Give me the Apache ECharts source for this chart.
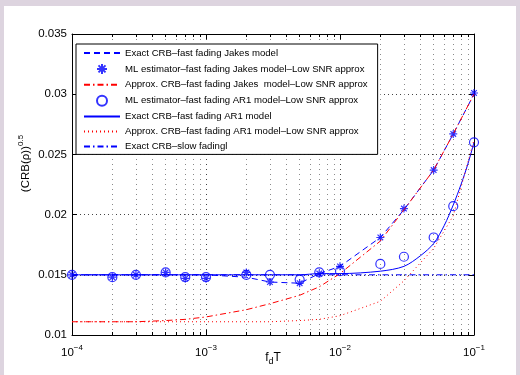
<!DOCTYPE html>
<html>
<head>
<meta charset="utf-8">
<script src="https://cdn.jsdelivr.net/npm/echarts@6/dist/echarts.min.js"></script>
<style>
html, body { margin: 0; padding: 0; }
#chart { width: 520px; height: 375px; }
</style>
</head>
<body>
<div id="chart"></div>
<script>
// f_d T 采样点
const fdT = [1e-4, 2e-4, 3e-4, 5e-4, 7e-4, 1e-3, 2e-3, 3e-3, 5e-3, 7e-3, 1e-2, 2e-2, 3e-2, 5e-2, 7e-2, 1e-1]
const exactJakes = [0.0150, 0.0150, 0.0150, 0.0150, 0.0150, 0.0150, 0.0148, 0.0144, 0.0143, 0.0151, 0.0157, 0.0181, 0.0204, 0.0237, 0.0267, 0.0300]
const mlJakes = [0.0150, 0.0148, 0.0150, 0.0152, 0.0147, 0.0147, 0.0152, 0.0144, 0.0143, 0.0151, 0.0157, 0.0181, 0.0205, 0.0237, 0.0267, 0.0301]
const approxJakes = [0.0111, 0.0111, 0.0111, 0.0112, 0.0113, 0.0115, 0.0121, 0.0126, 0.0133, 0.0140, 0.0151, 0.0178, 0.0204, 0.0237, 0.0267, 0.0300]
const mlAr1 = [0.0150, 0.0148, 0.0150, 0.0152, 0.0148, 0.0148, 0.0150, 0.0150, 0.0146, 0.0152, 0.0153, 0.0159, 0.0165, 0.0181, 0.0207, 0.0260]
const approxAr1 = [0.0111, 0.0111, 0.0111, 0.0111, 0.0111, 0.0111, 0.0111, 0.0111, 0.0112, 0.0113, 0.0116, 0.0128, 0.0145, 0.0172, 0.0199, 0.0262]
// AR1 精确曲线多取几个点
const arFdT = [1e-4, 1e-3, 5e-3, 7e-3, 1e-2, 2e-2, 3e-2, 4e-2, 5e-2, 6e-2, 7e-2, 8e-2, 9e-2, 1e-1]
const exactAr1 = [0.0150, 0.0150, 0.0150, 0.0151, 0.0151, 0.0153, 0.0157, 0.0166, 0.0176, 0.0191, 0.0208, 0.0225, 0.0242, 0.0260]
const slowFdT = [1e-4, 1e-1]
const exactSlow = [0.0150, 0.0150]

const names = [
  'Exact CRB–fast fading Jakes model',
  'ML estimator–fast fading Jakes model–Low SNR approx',
  'Approx. CRB–fast fading Jakes  model–Low SNR approx',
  'ML estimator–fast fading AR1 model–Low SNR approx',
  'Exact CRB–fast fading AR1 model',
  'Approx. CRB–fast fading AR1 model–Low SNR approx',
  'Exact CRB–slow fadingl'
]
// 哪些图例只画线，不画点
const lineOnly = [true, false, true, false, true, true, true]

// 对数轴的次刻度 2..9
const decades = [1e-4, 1e-3, 1e-2]
const minorX = []
decades.forEach(d => { for (let k = 2; k <= 9; k++) minorX.push(+(d * k).toPrecision(3)) })

const yMin = 0.01, yMax = 0.035
const font = '"Liberation Sans", Arial, sans-serif'
const blue = '#0000ff', red = '#ff0000'

const pair = (a, b) => a.map((v, i) => [v, b[i]])

// 网格线 + 小刻度
const markData = []
minorX.forEach(v => {
  const grid = { lineStyle: { color: '#8a8a8a', width: 1, type: [1, 4] } }
  markData.push([{ coord: [v, yMin], ...grid }, { coord: [v, yMax], ...grid }])
  const tick = { lineStyle: { color: '#000', width: 1, type: 'solid' } }
  markData.push([{ coord: [v, yMin], ...tick }, { coord: [v, yMin + 0.00025], ...tick }])
  markData.push([{ coord: [v, yMax], ...tick }, { coord: [v, yMax - 0.00025], ...tick }])
})

const asterisk = 'path://M5,0L5,10M0,5L10,5M1.5,1.5L8.5,8.5M1.5,8.5L8.5,1.5'

const chart = echarts.init(document.getElementById('chart'))

const option = {
  animation: false,
  backgroundColor: '#ddd4df',
  textStyle: { fontFamily: font, color: '#000' },
  graphic: [{
    type: 'rect', z: -100, silent: true,
    shape: { x: 4, y: 6, width: 512, height: 375 },
    style: { fill: '#fff' }
  }],
  grid: { left: 72, right: 46, top: 34, bottom: 40, containLabel: false, outerBoundsMode: 'none' },
  legend: {
    left: 76, top: 44,
    orient: 'vertical',
    itemWidth: 36, itemHeight: 10, itemGap: 4.9,
    padding: [4, 10, 3, 7],
    backgroundColor: '#fff',
    borderColor: '#000', borderWidth: 1,
    selectedMode: false,
    textStyle: { fontSize: 9.6, color: '#000', fontFamily: font },
    data: names.map((n, i) => lineOnly[i]
      ? { name: n, itemStyle: { color: 'rgba(0,0,0,0)', borderWidth: 0, opacity: 0 } }
      : { name: n })
  },
  xAxis: [{
    type: 'log', logBase: 10, min: 1e-4, max: 1e-1,
    position: 'bottom',
    name: '{b|f}{d|d}{b|T}', nameLocation: 'middle', nameGap: 14, nameMoveOverlap: false,
    nameTextStyle: {
      rich: {
        b: { fontSize: 12, fontFamily: font, color: '#000' },
        d: { fontSize: 9, fontFamily: font, color: '#000', padding: [8, 0, 0, 0] }
      }
    },
    axisLine: { lineStyle: { color: '#000', width: 1 } },
    axisTick: { inside: true, length: 5, lineStyle: { color: '#000' } },
    axisLabel: {
      margin: 9,
      formatter: v => '{b|10}{s|−' + Math.round(-Math.log10(v)) + '}',
      rich: {
        b: { fontSize: 11.5, fontFamily: font, color: '#000' },
        s: { fontSize: 8, fontFamily: font, color: '#000', padding: [0, 0, 9, 0] }
      }
    },
    splitLine: { show: true, lineStyle: { color: '#444', width: 1, type: [1, 4] } }
  }, {
    type: 'log', logBase: 10, min: 1e-4, max: 1e-1,
    position: 'top',
    axisLine: { lineStyle: { color: '#000', width: 1 } },
    axisTick: { inside: true, length: 5, lineStyle: { color: '#000' } },
    axisLabel: { show: false },
    splitLine: { show: false }
  }],
  yAxis: [{
    type: 'value', min: yMin, max: yMax, interval: 0.005,
    position: 'left',
    name: '{b|(CRB(ρ))}{s|0.5}', nameLocation: 'middle', nameGap: 38, nameMoveOverlap: false,
    nameTextStyle: {
      padding: [0, 0, 0, 42],
      rich: {
        b: { fontSize: 11.5, fontFamily: font, color: '#000' },
        s: { fontSize: 8, fontFamily: font, color: '#000', padding: [0, 0, 9, 0] }
      }
    },
    axisLine: { show: true, lineStyle: { color: '#000', width: 1 } },
    axisTick: { show: true, inside: true, length: 5, lineStyle: { color: '#000' } },
    axisLabel: { margin: 5, fontSize: 11.5, color: '#000', fontFamily: font },
    splitLine: { show: true, lineStyle: { color: '#444', width: 1, type: [1, 3] } }
  }, {
    type: 'value', min: yMin, max: yMax, interval: 0.005,
    position: 'right',
    axisLine: { show: true, lineStyle: { color: '#000', width: 1 } },
    axisTick: { show: true, inside: true, length: 5, lineStyle: { color: '#000' } },
    axisLabel: { show: false },
    splitLine: { show: false }
  }],
  series: [
    {
      name: names[0], type: 'line', data: pair(fdT, exactJakes),
      symbol: 'none', lineStyle: { color: blue, width: 1, type: [6, 4] }, itemStyle: { color: blue }
    },
    {
      name: names[1], type: 'scatter', data: pair(fdT, mlJakes),
      symbol: asterisk, symbolSize: 8,
      itemStyle: { color: 'rgba(0,0,0,0)', borderColor: blue, borderWidth: 1.2 }
    },
    {
      name: names[2], type: 'line', data: pair(fdT, approxJakes),
      symbol: 'none', lineStyle: { color: red, width: 1, type: [6, 3, 1.5, 3] }, itemStyle: { color: red }
    },
    {
      name: names[3], type: 'scatter', data: pair(fdT, mlAr1),
      symbol: 'circle', symbolSize: 9,
      itemStyle: { color: 'rgba(0,0,0,0)', borderColor: blue, borderWidth: 1.2 }
    },
    {
      name: names[4], type: 'line', data: pair(arFdT, exactAr1), smooth: 0.3,
      symbol: 'none', lineStyle: { color: blue, width: 1 }, itemStyle: { color: blue },
      markLine: {
        silent: true, symbol: 'none', z: 1, label: { show: false },
        emphasis: { disabled: true }, data: markData
      }
    },
    {
      name: names[5], type: 'line', data: pair(fdT, approxAr1),
      symbol: 'none', lineStyle: { color: red, width: 1, type: [1, 3] }, itemStyle: { color: red }
    },
    {
      name: names[6], type: 'line', data: pair(slowFdT, exactSlow),
      symbol: 'none', lineStyle: { color: blue, width: 1, type: [6, 3, 1.5, 3] }, itemStyle: { color: blue }
    }
  ]
}

chart.setOption(option)
</script>
</body>
</html>
